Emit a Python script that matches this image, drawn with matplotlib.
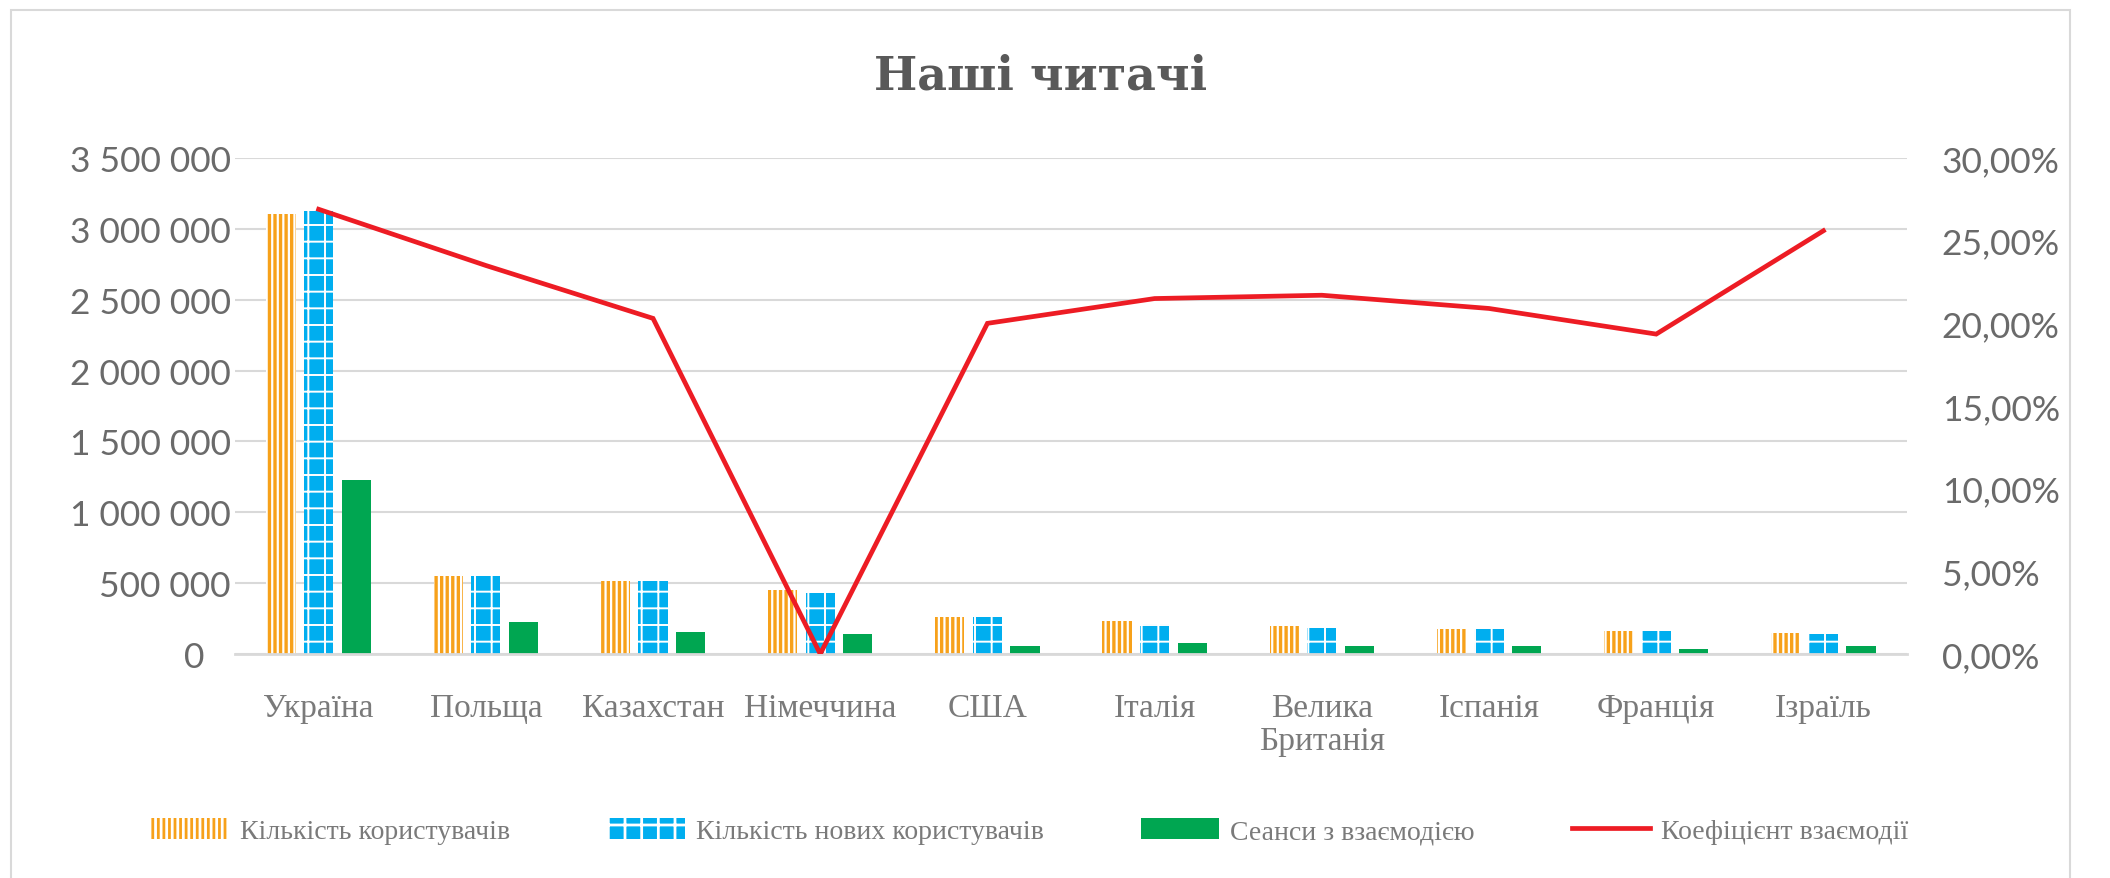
import numpy as np
import matplotlib
matplotlib.use('Agg')
import matplotlib.pyplot as plt
from matplotlib.patches import Rectangle

countries = ['Україна', 'Польща', 'Казахстан', 'Німеччина', 'США', 'Італія',
             'Велика\nБританія', 'Іспанія', 'Франція', 'Ізраїль']
users = [3105000, 553000, 517000, 452000, 262000, 230000, 198000, 180000, 161000, 150000]
new_users = [3125000, 550000, 517000, 432000, 262000, 210000, 185000, 178000, 160000, 142000]
sessions = [1225000, 228000, 158000, 142000, 56000, 76000, 58000, 56000, 38000, 56000]
ratio = [26.9, 23.5, 20.3, 0.0, 20.0, 21.5, 21.7, 20.9, 19.35, 25.6]

labels = ['Кількість користувачів', 'Кількість нових користувачів',
          'Сеанси з взаємодією', 'Коефіцієнт взаємодії']
left_ticks = np.arange(0, 3500001, 500000)
right_ticks = np.arange(0, 31, 5)

ORANGE = '#F7A11A'
BLUE = '#00AEEF'
GREEN = '#00A651'
RED = '#ED1C24'
GRID = '#d9d9d9'
TXT = '#595959'

plt.rcParams['font.family'] = ['Lato', 'DejaVu Sans']
plt.rcParams['hatch.linewidth'] = 2.0
SERIF = ['Liberation Serif', 'DejaVu Serif']


def set_hlw(bars, lw):
    for b in bars:
        if hasattr(b, 'set_hatch_linewidth'):
            b.set_hatch_linewidth(lw)


def main():
    fig = plt.figure(figsize=(21.1, 8.79), dpi=100)
    ax = fig.add_axes([0.1114, 0.2548, 0.7924, 0.5643])
    ax2 = ax.twinx()

    x = np.arange(len(countries))
    w = 0.175
    off = 0.225

    b1 = ax.bar(x - off, users, w, facecolor='white', edgecolor=ORANGE,
                linewidth=0, hatch='|||', zorder=2)
    set_hlw(b1, 2.4)
    b2 = ax.bar(x, new_users, w, facecolor=BLUE, edgecolor='white',
                linewidth=0, hatch='+', zorder=2)
    set_hlw(b2, 1.4)
    b3 = ax.bar(x + off, sessions, w, color=GREEN, linewidth=0, zorder=2)

    ln, = ax2.plot(x, ratio, color=RED, lw=3.4, solid_joinstyle='miter', zorder=3)

    ax.set_xlim(-0.5, len(countries) - 0.5)
    ax.set_ylim(0, 3500000)
    ax2.set_ylim(0, 30)

    ax.set_yticks(left_ticks)
    ax.set_yticklabels(['{:,}'.format(int(v)).replace(',', ' ') if v else '0   '
                        for v in left_ticks])
    ax2.set_yticks(right_ticks)
    ax2.set_yticklabels(['{:.2f}%'.format(v).replace('.', ',') for v in right_ticks])

    ax.set_xticks(x)
    ax.set_xticklabels(countries, linespacing=1.1, family=SERIF)

    ax.set_axisbelow(True)
    ax.yaxis.grid(True, color=GRID, lw=1.5)
    for s in ['top', 'left', 'right']:
        ax.spines[s].set_visible(False)
        ax2.spines[s].set_visible(False)
    ax2.spines['bottom'].set_visible(False)
    ax.spines['bottom'].set_color(GRID)
    ax.spines['bottom'].set_linewidth(2)

    ax.tick_params(axis='y', length=0, pad=3, labelsize=25.5, labelcolor='#6a6a6a')
    ax2.tick_params(axis='y', length=0, pad=25, labelsize=25.5, labelcolor='#6a6a6a')
    ax.tick_params(axis='x', length=0, pad=28, labelsize=24, labelcolor='#7a7a7a')

    fig.text(0.493, 1 - 76 / 879, 'Наші читачі', ha='center', va='center',
             fontsize=33, fontweight='bold', color=TXT, family='DejaVu Serif')

    leg = fig.legend([b1, b2, b3, ln], labels, loc='center',
                     bbox_to_anchor=(0.488, 1 - 832 / 879), ncol=4, frameon=False,
                     prop={'family': SERIF, 'size': 20},
                     handlelength=2.8, handleheight=0.8,
                     columnspacing=3.5, handletextpad=0.4)
    for t in leg.get_texts():
        t.set_color('#7a7a7a')

    fig.patches.append(Rectangle((11 / 2110, -0.05), 2059 / 2110, 1.05 - 11 / 879,
                                 transform=fig.transFigure, fill=False,
                                 edgecolor=GRID, lw=1.5))

    fig.savefig('out.png', dpi=100)


if __name__ == '__main__':
    main()
